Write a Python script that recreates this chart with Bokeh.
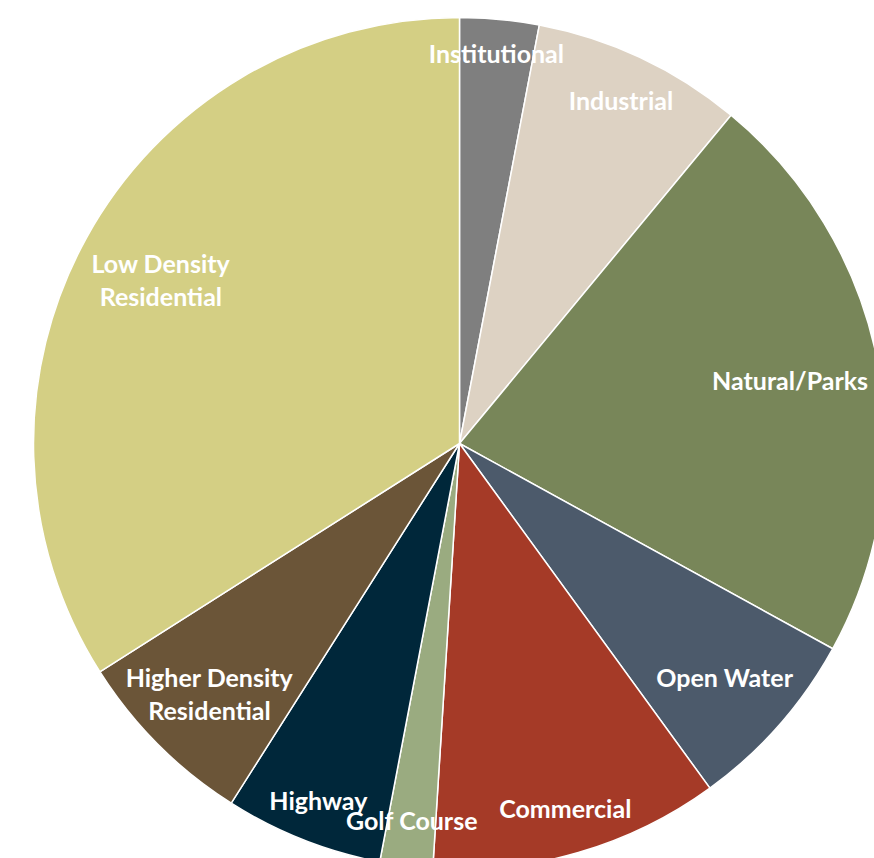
import math
from bokeh.plotting import figure
from bokeh.models import ColumnDataSource, Range1d
from bokeh.core.properties import value
from bokeh.embed import file_html
from bokeh.resources import INLINE

# Data (clockwise from 12 o'clock)
categories = ["Institutional", "Industrial", "Natural/Parks", "Open Water", "Commercial",
              "Golf Course", "Highway", "Higher Density\nResidential", "Low Density\nResidential"]
shares = [3, 8, 22, 7, 11, 2, 6, 7, 34]
colors = ["#7f7f7f", "#ddd2c3", "#788659", "#4c5a6b", "#a53a27",
          "#9aab80", "#00273a", "#6b5538", "#d4cf84"]
# label distance from centre, as a fraction of the radius (layout only)
label_r = [0.92, 0.89, 0.79, 0.83, 0.89, 0.89, 0.90, 0.83, 0.80]

W, H = 874, 858
cx, cy, R = 459, H - 443, 426

total = sum(shares)
starts, ends, lx, ly = [], [], [], []
cum = 0.0
for s, lr in zip(shares, label_r):
    a0 = math.pi / 2 - 2 * math.pi * cum / total
    cum += s
    a1 = math.pi / 2 - 2 * math.pi * cum / total
    starts.append(a0)
    ends.append(a1)
    mid = (a0 + a1) / 2
    lx.append(cx + lr * R * math.cos(mid))
    ly.append(cy + lr * R * math.sin(mid))

src = ColumnDataSource(dict(cat=categories, start=starts, end=ends, color=colors,
                            lx=lx, ly=ly))

p = figure(width=W, height=H, output_backend="svg", toolbar_location=None,
           x_range=Range1d(0, W), y_range=Range1d(0, H), min_border=0)
p.axis.visible = False
p.grid.visible = False
p.outline_line_color = None

p.wedge(x=cx, y=cy, radius=R, start_angle="start", end_angle="end", direction="clock",
        fill_color="color", line_color="white", line_width=1.5, source=src)

p.text(x="lx", y="ly", text="cat", source=src, text_align="center", text_baseline="middle",
       text_color="white", text_font=value("Lato"), text_font_style="bold",
       text_font_size="25px", text_line_height=1.1)

open("out.html", "w").write(file_html(p, INLINE))
